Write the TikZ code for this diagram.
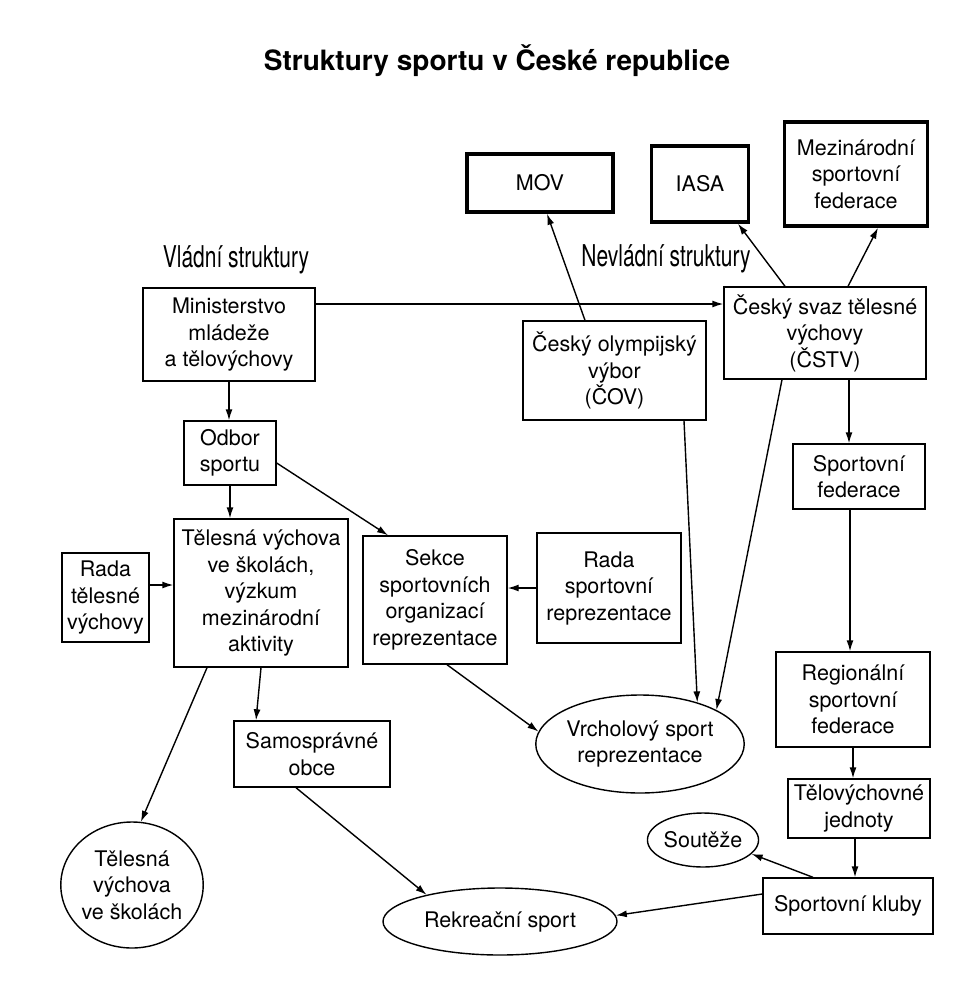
\documentclass[tikz,border=0pt]{standalone}
\usepackage{fontspec}
\setmainfont{TeX Gyre Heros}
\newfontfamily\condfont[FakeStretch=0.7]{TeX Gyre Heros}
\usepackage{tikz}
\usetikzlibrary{shapes.geometric, arrows.meta, positioning, calc}

\begin{document}
\begin{tikzpicture}[
  x=1pt, y=-1pt,
  font=\fontsize{21.5}{26.5}\selectfont,
  box/.style={rectangle, draw, line width=1.4pt, align=center, inner sep=0pt},
  intbox/.style={rectangle, draw, line width=3.5pt, align=center, inner sep=0pt},
  oval/.style={ellipse, draw, line width=1.4pt, align=center, inner sep=0pt},
  grp/.style={font=\condfont\fontsize{30}{32}\selectfont},
  arr/.style={-{Latex[length=11pt,width=7pt]}, line width=1.4pt},
]
\useasboundingbox (0,0) rectangle (974,986);

\node[font=\bfseries\fontsize{28}{32}\selectfont] (title) at (497,61) {Struktury sportu v České republice};

% mezinarodni organizace
\node[intbox, minimum width=146pt, minimum height=58pt] (mov) at (540,183) {MOV};
\node[intbox, minimum width=97pt, minimum height=76pt] (iasa) at (700,184) {IASA};
\node[intbox, minimum width=143pt, minimum height=104pt] (msf) at (856,174) {Mezinárodní\\sportovní\\federace};

\node[grp] (vlad) at (236,260) {Vládní struktury};
\node[grp] (nevlad) at (666,259) {Nevládní struktury};

% vladni strana
\node[box, minimum width=172pt, minimum height=93pt] (min) at (229,334.5) {Ministerstvo\\mládeže\\a tělovýchovy};
\node[box, minimum width=92pt, minimum height=64pt] (odbor) at (230,453) {Odbor\\sportu};
\node[box, minimum width=87pt, minimum height=89pt] (radatv) at (105.5,597.5) {Rada\\tělesné\\výchovy};
\node[box, minimum width=174pt, minimum height=148pt] (tv) at (261,593) {Tělesná výchova\\ve školách,\\výzkum\\mezinárodní\\aktivity};
\node[box, minimum width=144pt, minimum height=128pt] (sekce) at (435,600) {Sekce\\sportovních\\organizací\\reprezentace};
\node[box, minimum width=144pt, minimum height=110pt] (radasr) at (609,588) {Rada\\sportovní\\reprezentace};
\node[box, minimum width=156pt, minimum height=66pt] (samo) at (312,754) {Samosprávné\\obce};

% nevladni strana
\node[box, minimum width=183pt, minimum height=99pt] (cov) at (614.5,370.5) {Český olympijský\\výbor\\(ČOV)};
\node[box, minimum width=202pt, minimum height=92pt] (cstv) at (825,333) {Český svaz tělesné\\výchovy\\(ČSTV)};
\node[box, minimum width=132pt, minimum height=65pt] (sf) at (859,476.5) {Sportovní\\federace};
\node[box, minimum width=154pt, minimum height=95pt] (regfed) at (853,699.5) {Regionální\\sportovní\\federace};
\node[box, minimum width=142pt, minimum height=59pt] (tvj) at (859,808.5) {Tělovýchovné\\jednoty};
\node[box, minimum width=170pt, minimum height=56pt] (kluby) at (848,906) {Sportovní kluby};

% cile
\node[oval, minimum width=194pt, minimum height=98pt] (vrchol) at (640,744) {Vrcholový sport\\reprezentace};
\node[oval, minimum width=106pt, minimum height=54pt] (soutez) at (703,840) {Soutěže};
\node[oval, minimum width=140pt, minimum height=126pt] (tvsk) at (132,885) {Tělesná\\výchova\\ve školách};
\node[oval, minimum width=234pt, minimum height=67pt] (rekr) at (500,921.5) {Rekreační sport};

\draw[arr] ([yshift=30.5pt]min.east) -- ([yshift=29pt]cstv.west);
\draw[arr] ([xshift=-29.5pt]cov.north) -- ([xshift=7pt]mov.south);
\draw[arr] ([xshift=-40pt]cstv.north) -- ([xshift=38pt]iasa.south);
\draw[arr] ([xshift=23pt]cstv.north) -- ([xshift=22pt]msf.south);
\draw[arr] ([xshift=69.5pt]cov.south) -- (vrchol.36);
\draw[arr] ([xshift=-43pt]cstv.south) -- (vrchol.24);
\draw[arr] ([xshift=24pt]cstv.south) -- ([xshift=24pt]cstv.south |- sf.north);
\draw[arr] ([xshift=-9pt]sf.south) -- ([xshift=-9pt]sf.south |- regfed.north);
\draw[arr] (regfed.south) -- (regfed.south |- tvj.north);
\draw[arr] ([xshift=-4pt]tvj.south) -- ([xshift=-4pt]tvj.south |- kluby.north);
\draw[arr] ([xshift=-35pt]kluby.north) -- (soutez.-16);
\draw[arr] ([yshift=12pt]kluby.west) -- (rekr.3);

\draw[arr] (min.south) -- (min.south |- odbor.north);
\draw[arr] (odbor.south) -- (odbor.south |- tv.north);
\draw[arr] ([yshift=-10pt]odbor.east) -- ([xshift=-47pt]sekce.north);
\draw[arr] ([yshift=12.5pt]radatv.east) -- ([yshift=12.5pt]radatv.east -| tv.west);
\draw[arr] (radasr.west) -- (radasr.west -| sekce.east);
\draw[arr] ([xshift=12pt]sekce.south) -- (vrchol.173);
\draw[arr] (tv.south) -- ([xshift=-56pt]samo.north);
\draw[arr] ([xshift=-54pt]tv.south) -- (tvsk.82);
\draw[arr] ([xshift=-16pt]samo.south) -- (rekr.160);

\end{tikzpicture}
\end{document}
